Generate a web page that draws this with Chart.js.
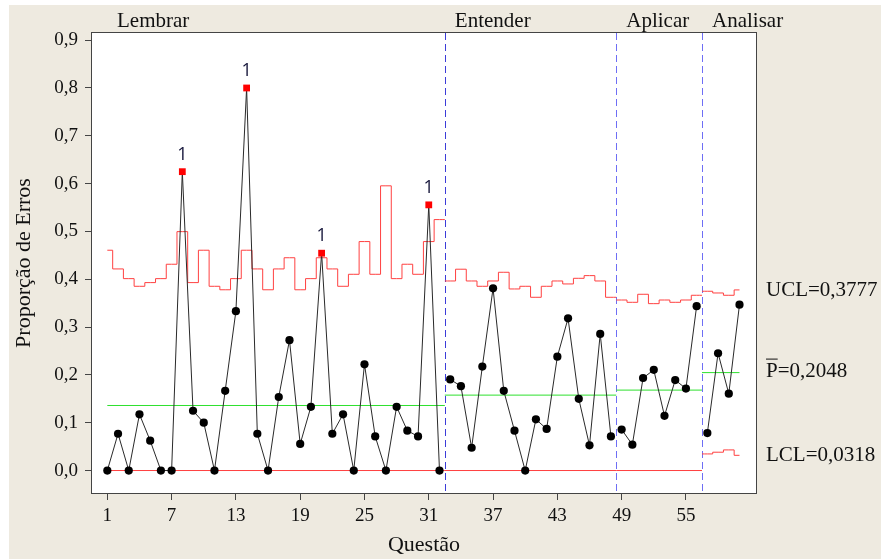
<!DOCTYPE html>
<html>
<head>
<meta charset="utf-8">
<script src="https://cdn.jsdelivr.net/npm/chart.js@4.4.1/dist/chart.umd.min.js"></script>
<style>
  html, body { margin: 0; padding: 0; background: #fff; }
  #grafico { display: block; }
</style>
</head>
<body>
<canvas id="grafico" width="881" height="559"></canvas>
<script>
// etapas (estágios) do gráfico P
const etapas = ['Lembrar', 'Entender', 'Aplicar', 'Analisar'];

// proporção de erros por questão, em cada etapa
const proporcaoLembrar = [0, 0.0769, 0, 0.1176, 0.0625, 0, 0, 0.625, 0.125, 0.1, 0, 0.1667, 0.3333, 0.8, 0.0769, 0,
  0.1538, 0.2727, 0.0556, 0.1333, 0.4545, 0.0769, 0.1176, 0, 0.2222, 0.0714, 0, 0.1333, 0.0833, 0.0714, 0.5556, 0];
const proporcaoEntender = [0.1905, 0.1765, 0.0476, 0.2174, 0.3810, 0.1667, 0.0833, 0, 0.1071, 0.0870, 0.2381, 0.3182,
  0.15, 0.0526, 0.2857, 0.0714];
const proporcaoAplicar = [0.0857, 0.0541, 0.1935, 0.2105, 0.1143, 0.1892, 0.1714, 0.3438];
const proporcaoAnalisar = [0.0784, 0.2453, 0.1607, 0.3469];

// limite superior (UCL) por questão
const lscLembrar = [0.4607, 0.4216, 0.4013, 0.3853, 0.3930, 0.4013, 0.4314, 0.4996, 0.3930, 0.4607, 0.3853, 0.3780,
  0.4013, 0.4607, 0.4216, 0.3780, 0.4216, 0.4450, 0.3780, 0.4013, 0.4450, 0.4216, 0.3853, 0.4104, 0.4788, 0.4104,
  0.5954, 0.4013, 0.4314, 0.4104, 0.4788, 0.5248];
const lscEntender = [0.3964, 0.4210, 0.3964, 0.3853, 0.3964, 0.4146, 0.3797, 0.3853, 0.3623, 0.3853, 0.3964, 0.3902,
  0.4020, 0.4076, 0.3964, 0.3623];
const lscAplicar = [0.3566, 0.3518, 0.3686, 0.3490, 0.3566, 0.3518, 0.3566, 0.3665];
const lscAnalisar = [0.3749, 0.3713, 0.3665, 0.3777];

// limite inferior (LCL): zero nas três primeiras etapas
const lciLembrar = 0;
const lciEntender = 0;
const lciAplicar = 0;
const lciAnalisar = [0.0347, 0.0383, 0.0431, 0.0318];

// linha central (P barra) de cada etapa
const linhaCentral = [0.1360, 0.1577, 0.1682, 0.2048];

// questões que falharam no teste 1
const questoesFora = [8, 14, 21, 31];

const ticksQuestao = [1, 7, 13, 19, 25, 31, 37, 43, 49, 55];
const ticksProporcao = [0, 0.1, 0.2, 0.3, 0.4, 0.5, 0.6, 0.7, 0.8, 0.9];
const rotulosLimites = ['UCL=0,3777', 'P=0,2048', 'LCL=0,0318'];
const valoresRotulos = [0.3777, 0.2048, 0.0318];

const proporcoes = [proporcaoLembrar, proporcaoEntender, proporcaoAplicar, proporcaoAnalisar];
const lscs = [lscLembrar, lscEntender, lscAplicar, lscAnalisar];
const lcis = [lciLembrar, lciEntender, lciAplicar, lciAnalisar];

const VERMELHO = '#ff4040';
const VERDE = '#2ee02e';
const serif = '"Liberation Serif", "Times New Roman", serif';

const dadosPontos = [];
const dadosLimites = [];
const divisoes = [];
let inicio = 1;

proporcoes.forEach((vals, k) => {
  const fim = inicio + vals.length - 1;
  const xIni = k === 0 ? inicio : inicio - 0.5;
  const xFim = k === proporcoes.length - 1 ? fim : fim + 0.5;
  if (k > 0) divisoes.push(xIni);

  const pts = vals.map((v, i) => ({ x: inicio + i, y: v }));
  dadosPontos.push({
    data: pts,
    borderColor: '#2a2a2a',
    borderWidth: 1,
    pointStyle: pts.map(p => questoesFora.includes(p.x) ? 'rect' : 'circle'),
    pointRadius: pts.map(p => questoesFora.includes(p.x) ? 4.8 : 4.1),
    pointBackgroundColor: pts.map(p => questoesFora.includes(p.x) ? '#ff0000' : '#000'),
    pointBorderWidth: 0,
    order: 0
  });

  const lsc = lscs[k];
  dadosLimites.push({
    data: [{ x: xIni, y: lsc[0] }].concat(lsc.map((v, i) => ({ x: inicio + i, y: v })), [{ x: xFim, y: lsc[lsc.length - 1] }]),
    borderColor: VERMELHO, borderWidth: 1, stepped: 'middle', pointRadius: 0, order: 2
  });

  const lci = lcis[k];
  if (Array.isArray(lci)) {
    dadosLimites.push({
      data: [{ x: xIni, y: lci[0] }].concat(lci.map((v, i) => ({ x: inicio + i, y: v })), [{ x: xFim, y: lci[lci.length - 1] }]),
      borderColor: VERMELHO, borderWidth: 1, stepped: 'middle', pointRadius: 0, order: 2
    });
  } else {
    dadosLimites.push({
      data: [{ x: xIni, y: lci }, { x: xFim, y: lci }],
      borderColor: VERMELHO, borderWidth: 1, pointRadius: 0, order: 2
    });
  }

  dadosLimites.push({
    data: [{ x: xIni, y: linhaCentral[k] }, { x: xFim, y: linhaCentral[k] }],
    borderColor: VERDE, borderWidth: 1, pointRadius: 0, order: 1
  });

  inicio = fim + 1;
});

const pluginFundo = {
  id: 'fundo',
  beforeDraw(chart) {
    const { ctx, chartArea: a } = chart;
    ctx.save();
    ctx.fillStyle = '#ffffff';
    ctx.fillRect(0, 0, chart.width, chart.height);
    ctx.fillStyle = '#eeeae0';
    ctx.fillRect(9, 5, chart.width - 9, chart.height - 5);
    ctx.fillStyle = '#ffffff';
    ctx.fillRect(a.left, a.top, a.right - a.left, a.bottom - a.top);
    ctx.restore();
  },
  beforeDatasetsDraw(chart) {
    const { ctx, chartArea: a, scales: { x } } = chart;
    ctx.save();
    ctx.lineWidth = 1;
    ctx.setLineDash([7, 4]);
    divisoes.forEach((d, i) => {
      const px = Math.round(x.getPixelForValue(d)) + 0.5;
      ctx.strokeStyle = i === 0 ? '#3c3cd8' : '#6e6ef5';
      ctx.beginPath();
      ctx.moveTo(px, a.top);
      ctx.lineTo(px, a.bottom);
      ctx.stroke();
    });
    ctx.restore();
  },
  afterDraw(chart) {
    const { ctx, chartArea: a, scales: { x, y } } = chart;
    ctx.save();
    // moldura
    ctx.strokeStyle = '#444';
    ctx.lineWidth = 1;
    ctx.strokeRect(a.left - 0.5, a.top - 0.5, a.right - a.left + 1, a.bottom - a.top + 1);

    // nomes das etapas
    ctx.fillStyle = '#111';
    ctx.font = '21px ' + serif;
    ctx.textAlign = 'left';
    ctx.textBaseline = 'alphabetic';
    etapas.forEach((nome, k) => {
      const px = k === 0 ? a.left + 25 : x.getPixelForValue(divisoes[k - 1]) + 10;
      ctx.fillText(nome, px, 27);
    });

    // rótulos dos limites
    ctx.font = '21px ' + serif;
    rotulosLimites.forEach((txt, i) => {
      const py = y.getPixelForValue(valoresRotulos[i]) + (i === 1 ? 4 : 6);
      ctx.fillText(txt, 766, py);
      if (i === 1) {
        const w = ctx.measureText('P').width;
        ctx.beginPath();
        ctx.moveTo(766, py - 17.5);
        ctx.lineTo(766 + w, py - 17.5);
        ctx.strokeStyle = '#111';
        ctx.stroke();
      }
    });

    // marcas do teste 1
    ctx.font = '18px "Open Sans", "Noto Sans", sans-serif';
    ctx.textAlign = 'center';
    ctx.fillStyle = '#15153a';
    const todos = [].concat(...proporcoes);
    questoesFora.forEach(q => {
      const px = x.getPixelForValue(q);
      const py = y.getPixelForValue(todos[q - 1]);
      ctx.fillText('1', px, py - 12);
    });
    ctx.restore();
  }
};

new Chart(document.getElementById('grafico'), {
  type: 'line',
  data: { datasets: dadosPontos.concat(dadosLimites) },
  options: {
    responsive: false,
    animation: false,
    layout: { padding: { top: 33, right: 125, bottom: 0, left: 0 } },
    plugins: { legend: { display: false }, tooltip: { enabled: false } },
    scales: {
      x: {
        type: 'linear',
        min: -0.43,
        max: 61.54,
        afterBuildTicks: s => { s.ticks = ticksQuestao.map(v => ({ value: v })); },
        afterFit: s => { s.height = 66; },
        grid: { drawOnChartArea: false, tickLength: 7, color: '#444' },
        border: { display: false },
        ticks: { autoSkip: false, maxRotation: 0, padding: 5, color: '#111', font: { family: serif, size: 19 } },
        title: { display: true, text: 'Questão', color: '#111', font: { family: serif, size: 22 }, padding: { top: 0, bottom: 1 } }
      },
      y: {
        min: -0.047,
        max: 0.915,
        afterBuildTicks: s => { s.ticks = ticksProporcao.map(v => ({ value: v })); },
        afterFit: s => { s.width = 92; },
        grid: { drawOnChartArea: false, tickLength: 7, color: '#444' },
        border: { display: false },
        ticks: { padding: 7, color: '#111', font: { family: serif, size: 19 },
          callback: v => v.toFixed(1).replace('.', ',') },
        title: { display: true, text: 'Proporção de Erros', color: '#111', font: { family: serif, size: 22 }, padding: { top: 11, bottom: 0 } }
      }
    }
  },
  plugins: [pluginFundo]
});
</script>
</body>
</html>
